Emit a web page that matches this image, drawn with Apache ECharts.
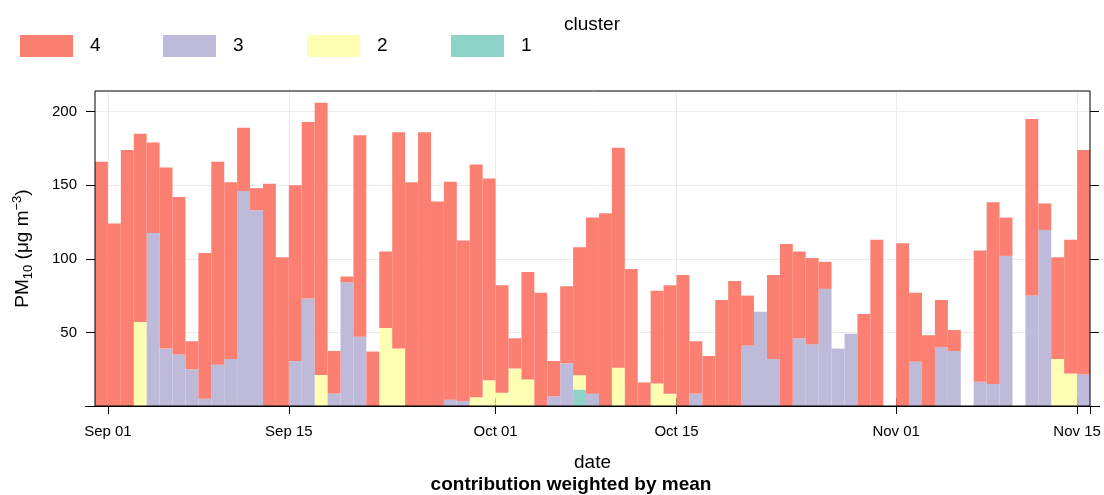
<!DOCTYPE html>
<html>
<head>
<meta charset="utf-8">
<script src="https://cdn.jsdelivr.net/npm/echarts@6/dist/echarts.min.js"></script>
<style>html,body{margin:0;padding:0;background:#fff}#c{width:1104px;height:495px}</style>
</head>
<body>
<div id="c"></div>
<script>
// first bar = 2023-08-31, one bar per day, 77 days (Aug 31 .. Nov 15)
const startYear = 2023, startMonth = 7, startDay = 31;
const nDays = 77;
const clusters = ['4', '3', '2', '1'];
const clusterColors = {'4': '#FB8072', '3': '#BEBADA', '2': '#FFFFB3', '1': '#8DD3C7'};

const c4 = [166,124,174,128,61.5,123,107,19,99,138,120,43,15,151,101,
  119.5,120,185,29,4,137,37,52,147,152,186,139,148,109,158,137,
  73,20.5,73,77,24,52.4,87,119.6,131,149.5,93,16,63,73.6,89,
  35.6,34,72,85,34,0,57,110,59,58.5,18.4,0,0,62.5,113,0,
  110.5,47,48,32,14.3,0,89.3,123.4,26,0,120,18,69,91,152.4];
const c3 = [0,0,0,0,117.5,39,35,25,5,28,32,146,133,0,0,
  30.5,73,0,8.4,84,47,0,0,0,0,0,0,4.3,3.4,0,0,
  0,0,0,0,6.6,29,0,8.4,0,0,0,0,0,0,0,
  8.4,0,0,0,41,64,32,0,46,42,79.6,39,49,0,0,0,
  0,30,0,40,37.3,0,16.4,15,102,0,75,119.6,0,0,21.6];
const c2 = [0,0,0,57,0,0,0,0,0,0,0,0,0,0,0,
  0,0,21,0,0,0,0,53,39,0,0,0,0,0,6,17.5,
  9,25.5,18,0,0,0,9.7,0,0,26,0,0,15.3,8.4,0,
  0,0,0,0,0,0,0,0,0,0,0,0,0,0,0,0,
  0,0,0,0,0,0,0,0,0,0,0,0,32,22,0];
const c1 = new Array(nDays).fill(0);
c1[37] = 11.2;

const tickDates = ['2023-09-01','2023-09-15','2023-10-01','2023-10-15','2023-11-01','2023-11-15'];
const tickLabels = ['Sep 01','Sep 15','Oct 01','Oct 15','Nov 01','Nov 15'];
const yTicks = [50,100,150,200];

const DAY = 86400000;
const t0 = Date.UTC(startYear, startMonth, startDay);
const dates = Array.from({length: nDays}, (_, i) => new Date(t0 + i * DAY).toISOString().slice(0, 10));
const tickIdx = tickDates.map(d => dates.indexOf(d));
const seriesData = {'4': c4, '3': c3, '2': c2, '1': c1};

const chart = echarts.init(document.getElementById('c'), null, {renderer: 'canvas'});
const W = 1104, H = 495;
const gridLeft = 95, gridRight = 14, gridTop = 91, gridBottom = 89;
const band = (W - gridLeft - gridRight) / nDays;
const FONT = '"Liberation Sans", Arial, Helvetica, sans-serif';

const series = ['1','2','3','4'].map(k => ({
  name: k,
  type: 'bar',
  stack: 'all',
  barWidth: '100%',
  barCategoryGap: 0,
  itemStyle: {color: clusterColors[k]},
  emphasis: {disabled: true},
  data: seriesData[k]
}));

const legendLefts = [15, 158, 302, 446];
const legends = clusters.map((k, i) => ({
  data: [k],
  icon: 'rect',
  left: legendLefts[i],
  top: 30,
  itemWidth: 53,
  itemHeight: 22,
  itemStyle: {borderWidth: 0},
  textStyle: {fontSize: 19, color: '#000', fontFamily: FONT, padding: [0,0,0,12]},
  selectedMode: false
}));

chart.setOption({
  animation: false,
  textStyle: {fontFamily: FONT},
  title: [
    {text: 'cluster', left: 587, top: 10, textAlign: 'center',
     textStyle: {fontSize: 19, fontWeight: 'normal', color: '#000', fontFamily: FONT}},
    {text: 'contribution weighted by mean', left: 566, top: 470, textAlign: 'center',
     textStyle: {fontSize: 19, fontWeight: 'bold', color: '#000', fontFamily: FONT}}
  ],
  legend: legends,
  grid: {left: gridLeft, right: gridRight, top: gridTop, bottom: gridBottom, show: true,
         outerBoundsMode: 'none', containLabel: false,
         z: 10, borderColor: '#000', borderWidth: 1, backgroundColor: 'transparent'},
  graphic: [{type: 'line', z: 100, silent: true,
             shape: {x1: gridLeft - 10, y1: H - gridBottom + 0.5, x2: W - 4, y2: H - gridBottom + 0.5},
             style: {stroke: '#000', lineWidth: 1}}],
  xAxis: [
    {type: 'category', position: 'bottom', data: dates, boundaryGap: true,
     axisLine: {show: false},
     axisTick: {show: true, length: 8, lineStyle: {color: '#000'}, alignWithLabel: false,
                interval: (i) => tickIdx.includes(i)},
     axisLabel: {interval: (i) => tickIdx.includes(i),
                 formatter: v => tickLabels[tickDates.indexOf(v)] || '',
                 padding: [0, band, 0, 0],
                 fontSize: 15, color: '#000', margin: 18, fontFamily: FONT},
     splitLine: {show: false},
     name: 'date', nameLocation: 'middle', nameGap: 47,
     nameTextStyle: {fontSize: 19, color: '#000', fontFamily: FONT}},
    {type: 'value', position: 'top', min: 0, max: nDays,
     axisLine: {show: false},
     axisTick: {show: true, length: 8, lineStyle: {color: '#000'}, customValues: tickIdx},
     axisLabel: {show: false, customValues: tickIdx},
     splitLine: {show: true, lineStyle: {color: '#ebebeb', width: 1}}}
  ],
  yAxis: [
    {type: 'value', position: 'left', min: 0, max: 214, interval: 50,
     axisLine: {show: false},
     axisTick: {show: true, length: 9, lineStyle: {color: '#000'}, customValues: yTicks},
     axisLabel: {customValues: yTicks, fontSize: 15, color: '#000', margin: 18, fontFamily: FONT},
     splitLine: {show: true, lineStyle: {color: '#ebebeb', width: 1}},
     name: '{a|PM}{sub|10}{a| (μg m}{sup|−3}{a|)}', nameLocation: 'middle', nameGap: 60, nameRotate: 90,
     nameTextStyle: {color: '#000', fontFamily: FONT, rich: {
       a: {fontSize: 19, color: '#000', fontFamily: FONT, verticalAlign: 'middle', height: 24},
       sub: {fontSize: 13, color: '#000', fontFamily: FONT, verticalAlign: 'bottom'},
       sup: {fontSize: 13, color: '#000', fontFamily: FONT, verticalAlign: 'top'}
     }}},
    {type: 'value', position: 'right', min: 0, max: 214, interval: 50,
     axisLine: {show: false},
     axisTick: {show: true, length: 9, lineStyle: {color: '#000'}, customValues: yTicks},
     axisLabel: {show: false, customValues: yTicks},
     splitLine: {show: false}}
  ],
  series: series
});
</script>
</body>
</html>
